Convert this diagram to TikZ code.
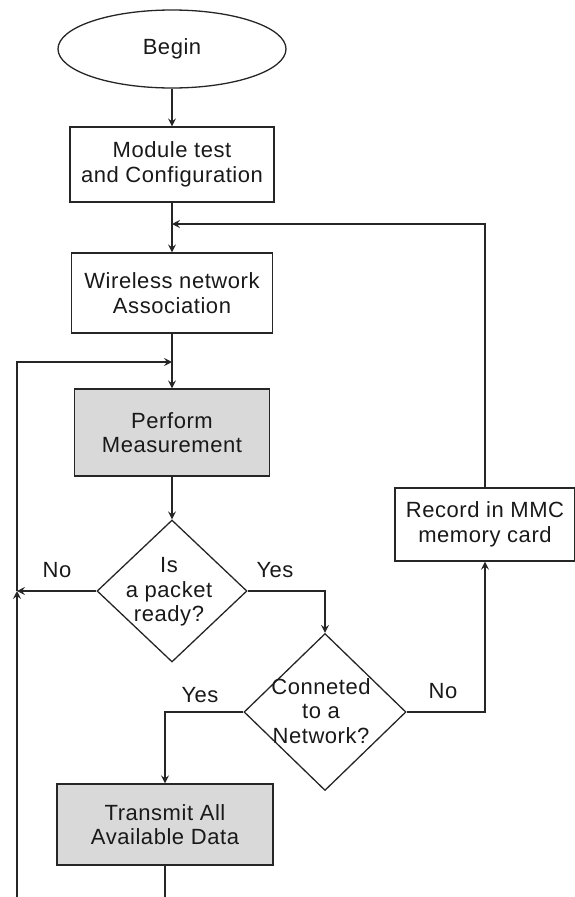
\documentclass[tikz,border=0pt]{standalone}
\usepackage{fontspec}
\setmainfont{Liberation Sans}[LetterSpace=2.5]
\usetikzlibrary{shapes.geometric,arrows.meta}
\begin{document}
\begin{tikzpicture}[x=1pt,y=-1pt,
  every node/.style={font=\fontsize{22}{24.5}\selectfont, text=black!90},
  ln/.style={draw=black!85, line width=1.3pt},
  arr/.style={ln, -{Stealth[length=8pt,width=8pt,inset=3pt]}},
  box/.style={ln, rectangle, inner sep=0pt, align=center},
  grey/.style={fill=black!15},
  dia/.style={ln, diamond, inner sep=0pt},
  dtext/.style={align=center, inner sep=0pt}
]
\useasboundingbox (0,0) rectangle (575,897);

\node[ln, ellipse, minimum width=228pt, minimum height=78pt, inner sep=0pt] (begin) at (172,49) {Begin};
\node[box, minimum width=204pt, minimum height=75pt] (mod) at (172,164.5) {Module test\\and Configuration};
\node[box, minimum width=201pt, minimum height=80pt] (wl) at (172,293) {Wireless network\\Association};
\node[box, grey, minimum width=195pt, minimum height=87pt] (pm) at (172,432.5) {Perform\\Measurement};
\node[dia, minimum width=150pt, minimum height=142pt] (d1) at (172,591) {};
\node[dtext] (d1t) at (169,592) {Is\\a packet\\ready?};
\node[dia, minimum width=162pt, minimum height=157pt] (d2) at (325,712) {};
\node[dtext] (d2t) at (321,711) {Conneted\\to a\\Network?};
\node[box, minimum width=180pt, minimum height=73pt] (rec) at (485,524.5) {Record in MMC\\memory card};
\node[box, grey, minimum width=216pt, minimum height=81pt] (tr) at (165,824.5) {Transmit All\\Available Data};

\coordinate (j1) at (172,224);
\coordinate (j2) at (172,362);
\coordinate (lj) at (17,591);
\coordinate (lb) at (17,897);
\coordinate (tb) at (165,897);

\node (no1) at (57,570) {No};
\node (yes1) at (275,570) {Yes};
\node (yes2) at (200,695) {Yes};
\node (no2) at (443,691) {No};

\draw[arr] (begin.south) -- (mod.north);
\draw[ln] (mod.south) -- (j1);
\draw[arr] (j1) -- (wl.north);
\draw[arr] (rec.north) |- (j1);
\draw[ln] (wl.south) -- (j2);
\draw[arr] (j2) -- (pm.north);
\draw[arr] (pm.south) -- (d1.north);
\draw[arr] (d1.west) -- (lj);
\draw[arr] (lb) -- (lj);
\draw[arr] (lj) |- (j2);
\draw[arr] (d1.east) -| (d2.north);
\draw[arr] (d2.east) -| (rec.south);
\draw[arr] (d2.west) -| (tr.north);
\draw[ln] (tr.south) -- (tb);
\end{tikzpicture}
\end{document}
